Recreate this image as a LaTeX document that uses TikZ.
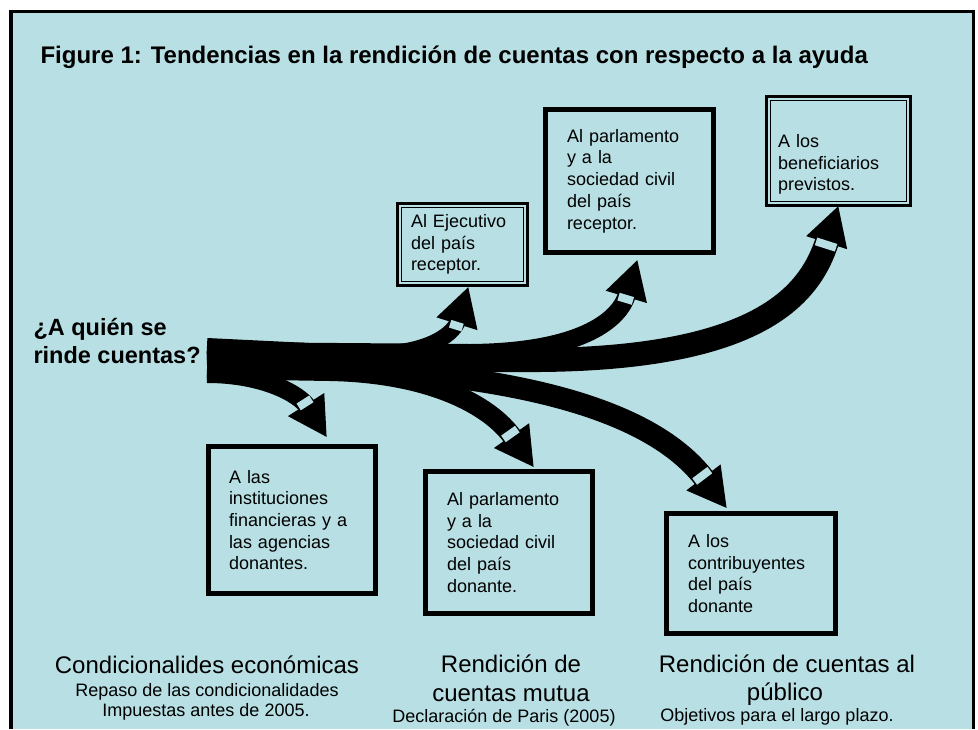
\documentclass[tikz,border=0pt]{standalone}
\usepackage{fontspec}
\setmainfont{Liberation Sans}
\usetikzlibrary{arrows.meta,calc}

\definecolor{panelblue}{RGB}{184,224,228}

\tikzset{
  box/.style={draw, line width=5pt, outer sep=0pt, inner sep=0pt, align=left,
    font=\fontsize{18}{21.7}\selectfont},
  dblbox/.style={box, line width=3pt},
  flow/.style={line width=#1, -{Triangle[width=40pt,length=39pt]}},
  colhead/.style={anchor=base, font=\fontsize{24}{29}\selectfont},
  colsub/.style={anchor=base, font=\fontsize{18}{21}\selectfont},
  quest/.style={anchor=base west, font=\bfseries\fontsize{23.5}{28}\selectfont},
}

% franja clara detras de la punta: punta, control, media anchura
\newcommand\flowband[3]{%
  \coordinate (bf) at ($(#1)!37pt!(#2)$);
  \coordinate (bb) at ($(#1)!45pt!(#2)$);
  \fill[panelblue] ($(bf)!#3!90:(#1)$) -- ($(bf)!#3!-90:(#1)$)
    -- ($(bb)!#3!-90:(#1)$) -- ($(bb)!#3!90:(#1)$) -- cycle;}

\begin{document}
\begin{tikzpicture}[x=1pt,y=-1pt]
\useasboundingbox (0,0) rectangle (978,729);
% fondo del recuadro
\fill[panelblue] (11,11.5) rectangle (973.5,729);
\draw[line width=3.5pt] (11,729) -- (11,11.5) -- (973.5,11.5) -- (973.5,729);

\node[anchor=base west, font=\bfseries\fontsize{24}{29}\selectfont] (title) at (37,63)
  {Figure 1: Tendencias en la rendición de cuentas con respecto a la ayuda};

\node[quest] (quien) at (30,335) {¿A quién se};
\node[quest] (quienb) at (30,363) {rinde cuentas?};

% cajas de arriba
\node[dblbox, minimum width=130pt, minimum height=82pt, text width=103pt] (bx1) at (462.5,244.5)
  {Al Ejecutivo\\del país\\receptor.};
\draw[line width=1.2pt] ([shift={(4,4)}]bx1.north west) rectangle ([shift={(-4,-4)}]bx1.south east);
\node[box, minimum width=168pt, minimum height=143pt, text width=125pt] (bx2) at (629.5,181)
  {Al parlamento\\y a la\\sociedad civil\\del país\\receptor.};
\node[dblbox, minimum width=144pt, minimum height=109pt, text width=121pt] (bx3) at (838.5,151)
  {\rule{0pt}{40pt}A los\\beneficiarios\\previstos.};
\draw[line width=1.2pt] ([shift={(4,4)}]bx3.north west) rectangle ([shift={(-4,-4)}]bx3.south east);

% cajas de abajo
\node[box, minimum width=167pt, minimum height=147pt, text width=126pt] (bx4) at (292,520)
  {A las\\instituciones\\financieras y a\\las agencias\\donantes.};
\node[box, minimum width=167pt, minimum height=142pt, text width=124pt] (bx5) at (509,542.5)
  {Al parlamento\\y a la\\sociedad civil\\del país\\donante.};
\node[box, minimum width=169pt, minimum height=120pt, text width=126pt] (bx6) at (751,573.5)
  {A los\\contribuyentes\\del país\\donante};

% flechas
\coordinate (root) at (207,360);
\coordinate (tipA) at ([shift={(35,-9)}]bx4.north);   \coordinate (cA) at (300,395);
\coordinate (tipB) at ([shift={(6,1)}]bx1.south);     \coordinate (cB) at (455,330);
\coordinate (tipC) at ([shift={(8,7)}]bx2.south);     \coordinate (cC) at (620,318);
\coordinate (tipD) at (bx3.south);                    \coordinate (cD) at (810,295);
\coordinate (tipE) at ([shift={(25,-4)}]bx5.north);   \coordinate (cE) at (490,405);
\coordinate (tipF) at ([shift={(-24,-5)}]bx6.north);  \coordinate (cF) at (660,420);

\draw[flow=24pt] (root) -- (540,360) .. controls (760,358) and (cD) .. (tipD);
\draw[flow=16pt] ([shift={(0,-14)}]root) -- (370,354) .. controls (435,354) and (cB) .. (tipB);
\draw[flow=18pt] ([shift={(0,-9)}]root) -- (470,353) .. controls (585,352) and (cC) .. (tipC);
\draw[flow=22pt] ([shift={(0,5)}]root) .. controls (540,362) and (cF) .. (tipF);
\draw[flow=20pt] ([shift={(0,9)}]root) -- (330,371) .. controls (430,373) and (cE) .. (tipE);
\draw[flow=18pt] ([shift={(0,14)}]root) .. controls (265,374) and (cA) .. (tipA);

\flowband{tipA}{cA}{7.5pt}
\flowband{tipB}{cB}{6.5pt}
\flowband{tipC}{cC}{7.5pt}
\flowband{tipD}{cD}{10.5pt}
\flowband{tipE}{cE}{8.5pt}
\flowband{tipF}{cF}{9.5pt}

% textos de pie
\node[colhead] (econ) at (207,673) {Condicionalides económicas};
\node[colsub] (econa) at (207,696) {Repaso de las condicionalidades};
\node[colsub] (econb) at (206,716) {Impuestas antes de 2005.};
\node[colhead] (mutua) at (511,672) {Rendición de};
\node[colhead] (mutuab) at (511,701) {cuentas mutua};
\node[colsub] (paris) at (504,722) {Declaración de Paris (2005)};
\node[colhead] (publico) at (787,672) {Rendición de cuentas al};
\node[colhead] (publicob) at (785,700) {público};
\node[colsub] (objet) at (777,721) {Objetivos para el largo plazo.};
\end{tikzpicture}
\end{document}
